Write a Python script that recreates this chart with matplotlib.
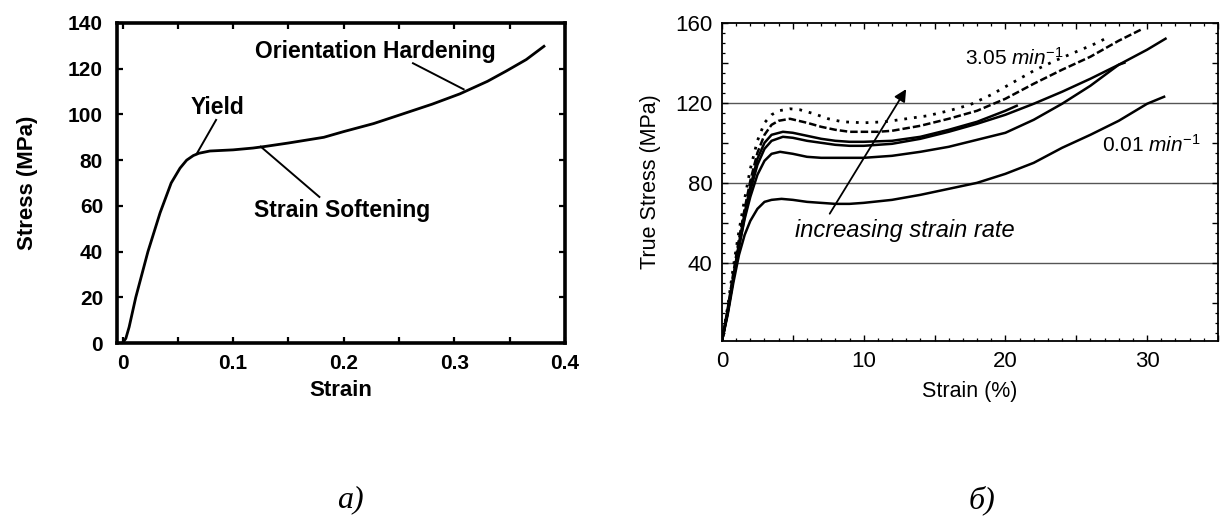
import matplotlib
matplotlib.use("Agg")
import matplotlib.pyplot as plt
from matplotlib.ticker import MultipleLocator, FixedLocator, FixedFormatter

plt.rcParams['font.family'] = ['Liberation Sans', 'DejaVu Sans']
plt.rcParams['mathtext.fontset'] = 'custom'
plt.rcParams['mathtext.it'] = 'Liberation Sans:italic'
plt.rcParams['mathtext.rm'] = 'Liberation Sans'

# panel a: generic stress-strain curve
strain_a = [0, 0.003, 0.006, 0.012, 0.023, 0.034, 0.044, 0.052, 0.058, 0.064, 0.069,
            0.079, 0.1, 0.118, 0.129, 0.15, 0.182, 0.2, 0.227, 0.252, 0.28, 0.305,
            0.33, 0.347, 0.365, 0.381]
stress_a = [0, 2, 7, 20, 40, 57, 70, 76.5, 80, 82, 83, 84, 84.5, 85.3, 86, 87.5, 90,
            92.5, 96, 100, 104.5, 109, 114.5, 119, 124, 129.8]

# panel b: true stress vs strain (%) at several strain rates
s1 = [0, 0.4, 0.8, 1.2, 1.6, 2.0, 2.5, 3.0, 3.5, 4.2, 5, 6, 7, 8, 9, 10, 12, 14, 16,
      18, 20, 22, 24, 26, 28, 30, 31.2]
t1 = [1, 14, 30, 44, 54, 61, 67, 70.5, 71.5, 72, 71.5, 70.5, 70, 69.5, 69.5, 70, 71.5,
      74, 77, 80, 84.5, 90, 97.5, 104, 111, 119.5, 123]

s2 = [0, 0.4, 0.8, 1.2, 1.6, 2.0, 2.5, 3.0, 3.5, 4.1, 5, 6, 7, 8, 10, 12, 14, 16, 18,
      20, 22, 24, 26, 28, 30, 31.3]
t2 = [1, 15, 32, 48, 62, 73, 84, 91, 94.5, 95.5, 94.5, 93, 92.5, 92.5, 92.5, 93.5,
      95.5, 98, 101.5, 105, 111.5, 119.5, 128.5, 139, 146.5, 152]

s3 = [0, 0.4, 0.8, 1.2, 1.6, 2.0, 2.5, 3.0, 3.5, 4.3, 5, 6, 7, 8, 9, 10, 12, 14, 16,
      18, 20, 22, 24, 26, 28, 28.4]
t3 = [1, 15, 32, 48, 63, 76, 89, 97, 101, 103, 102.5, 101, 100, 99, 98.5, 98.5, 99.5,
      102, 105.5, 109.5, 114, 119.5, 125.5, 132, 139, 140]

s4 = [0, 0.4, 0.8, 1.2, 1.6, 2.0, 2.5, 3.0, 3.5, 4.3, 5, 6, 7, 8, 9, 10, 12, 14, 16,
      18, 20, 20.8]
t4 = [1, 16, 33, 50, 65, 78, 92, 100, 104, 105.5, 105, 103.5, 102, 101, 100.5, 100.5,
      101, 103, 106.5, 110.5, 116, 118.5]

s5 = [0, 0.4, 0.8, 1.2, 1.6, 2.0, 2.5, 3.0, 3.5, 4.0, 4.8, 6, 7, 8, 9, 10, 11, 12, 14,
      16, 18, 20, 22, 24, 26, 28, 29.7]
t5 = [1, 17, 35, 52, 67, 81, 95, 104, 109, 111, 112, 110, 108, 106.5, 105.5, 105.5,
      105.5, 106, 108.5, 112, 116, 122, 129.5, 136.5, 143, 151, 157]

s6 = [0, 0.4, 0.8, 1.2, 1.6, 2.0, 2.5, 3.0, 3.5, 4.0, 4.8, 5.5, 6.5, 7.5, 8.5, 10,
      11.5, 13, 14.5, 16, 17.5, 19, 20.5, 22, 23.5, 25, 26.5, 27.3]
t6 = [1, 18, 38, 56, 72, 87, 101, 110, 114, 116, 117, 116.5, 114.5, 112, 110.5, 110,
      110.5, 112, 113.5, 116, 119, 124, 130, 136, 141, 145.5, 150, 153]

fig = plt.figure(figsize=(12.21, 5.18), dpi=100)

# ---- panel a ----
ax1 = fig.add_axes([0.0958, 0.3378, 0.3669, 0.6178])
ax1.plot(strain_a, stress_a, color='black', lw=2.0)
ax1.set_xlim(-0.005, 0.4)
ax1.set_ylim(0, 140)
ax1.xaxis.set_major_locator(FixedLocator([0, 0.1, 0.2, 0.3, 0.4]))
ax1.xaxis.set_major_formatter(FixedFormatter(['0', '0.1', '0.2', '0.3', '0.4']))
ax1.xaxis.set_minor_locator(MultipleLocator(0.05))
ax1.yaxis.set_major_locator(MultipleLocator(20))
ax1.tick_params(which='both', direction='in', top=True, right=True, length=4, width=1.6,
                labelsize=15)
ax1.tick_params(axis='x', pad=8)
ax1.tick_params(axis='y', pad=10)
for lab in ax1.get_xticklabels() + ax1.get_yticklabels():
    lab.set_fontweight('bold')
for sp in ax1.spines.values():
    sp.set_linewidth(2.6)
ax1.set_xlabel('Strain', fontsize=16, fontweight='bold', labelpad=5)
ax1.set_ylabel('Stress (MPa)', fontsize=16, fontweight='bold', labelpad=22)

ax1.text(0.229, 127.5, 'Orientation Hardening', fontsize=16.5, fontweight='bold',
         ha='center', va='center')
ax1.plot([0.2626, 0.3084], [122.4, 111.0], color='black', lw=1.4)
ax1.text(0.0863, 103.1, 'Yield', fontsize=16.5, fontweight='bold', ha='center', va='center')
ax1.plot([0.0846, 0.067], [97.6, 82.7], color='black', lw=1.4)
ax1.text(0.199, 58.1, 'Strain Softening', fontsize=16.5, fontweight='bold',
         ha='center', va='center')
ax1.plot([0.178, 0.125], [63.9, 85.9], color='black', lw=1.4)

# ---- panel b ----
ax2 = fig.add_axes([0.5913, 0.3417, 0.4062, 0.6145])
for y in [40, 80, 120]:
    ax2.axhline(y, color='#555555', lw=1.0, zorder=1)
ax2.plot(s1, t1, color='black', lw=1.8)
ax2.plot(s2, t2, color='black', lw=1.8)
ax2.plot(s3, t3, color='black', lw=1.8)
ax2.plot(s4, t4, color='black', lw=1.8)
ax2.plot(s5, t5, color='black', lw=1.8, linestyle=(0, (3, 1.2)))
ax2.plot(s6, t6, color='black', lw=2.0, linestyle=(0, (1, 2.5)))
ax2.set_xlim(0, 35)
ax2.set_ylim(1, 160)
ax2.xaxis.set_major_locator(MultipleLocator(5))
ax2.xaxis.set_minor_locator(MultipleLocator(1))
ax2.xaxis.set_major_formatter(plt.FuncFormatter(lambda v, p: '%d' % v if v % 10 == 0 else ''))
ax2.yaxis.set_major_locator(MultipleLocator(20))
ax2.yaxis.set_minor_locator(MultipleLocator(5))
ax2.yaxis.set_major_formatter(plt.FuncFormatter(lambda v, p: '%d' % v if v % 40 == 0 and v > 0 else ''))
ax2.tick_params(which='major', direction='in', top=True, right=True, length=4.5, width=1.0,
                labelsize=16, pad=7)
ax2.tick_params(which='minor', direction='in', top=True, right=True, length=2.5, width=0.9)
for sp in ax2.spines.values():
    sp.set_linewidth(1.3)
ax2.set_xlabel('Strain (%)', fontsize=15.5, labelpad=7)
ax2.set_ylabel('True Stress (MPa)', fontsize=15.5, labelpad=10)

ax2.annotate('', xy=(13.1, 128), xytext=(7.5, 63.4),
             arrowprops=dict(arrowstyle='-|>', color='black', lw=1.3, mutation_scale=18))
ax2.text(12.9, 56, 'increasing strain rate', fontsize=17, style='italic',
         ha='center', va='center')
ax2.text(17.15, 139, r'$\mathit{3.05\ min}^{\mathit{-1}}$', fontsize=15, ha='left', va='baseline')
ax2.text(26.8, 95.5, r'$\mathit{0.01\ min}^{\mathit{-1}}$', fontsize=15, ha='left', va='baseline')

# panel captions
fig.text(350 / 1221, 0.035, 'а)', fontsize=23, style='italic', family='Liberation Serif',
         ha='center', va='center')
fig.text(982 / 1221, 0.035, 'б)', fontsize=23, style='italic', family='Liberation Serif',
         ha='center', va='center')

fig.savefig('out.png', dpi=100)
